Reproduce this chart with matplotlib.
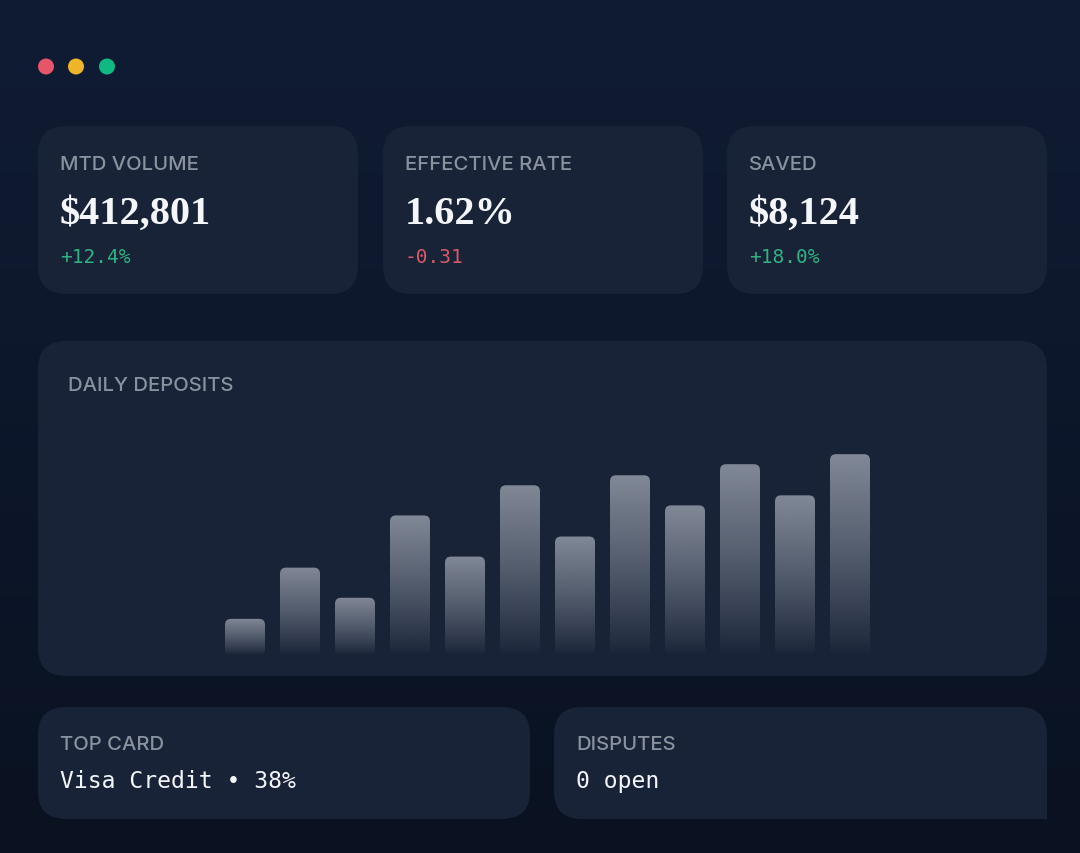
import numpy as np
import matplotlib.pyplot as plt
from matplotlib.patches import FancyBboxPatch, Rectangle, Circle
from matplotlib.colors import to_rgb

# ---- data ----
kpi_labels = ['MTD VOLUME', 'EFFECTIVE RATE', 'SAVED']
kpi_values = ['$412,801', '1.62%', '$8,124']
kpi_deltas = ['+12.4%', '-0.31', '+18.0%']
kpi_up = [True, False, True]

chart_title = 'DAILY DEPOSITS'
days = np.arange(1, 13)
deposits = [18, 43.5, 28.5, 69.5, 49, 84.5, 59, 89.5, 74.5, 95, 79.5, 100]  # $k

bottom_labels = ['TOP CARD', 'DISPUTES']
bottom_values = ['Visa Credit \u2022 38%', '0 open']

# ---- style ----
W, H = 1080, 854
BG_TOP = '#101c34'
BG_BOT = '#0a1221'
CARD = '#192337'
LABEL = '#8a92a0'
WHITE = '#f4f6f9'
GREEN = '#2fb282'
RED = '#d9596a'
SANS = ['Inter', 'DejaVu Sans']
SERIF = ['Liberation Serif', 'DejaVu Serif']
MONO = ['DejaVu Sans Mono']

fig = plt.figure(figsize=(W / 100, H / 100), dpi=100)
ax = fig.add_axes([0, 0, 1, 1])
ax.set_xlim(0, W)
ax.set_ylim(H, 0)
ax.axis('off')

# background gradient
grad = np.linspace(0, 1, 256)[:, None, None]
c0, c1 = np.array(to_rgb(BG_TOP)), np.array(to_rgb(BG_BOT))
bg = c0 * (1 - grad) + c1 * grad
ax.imshow(bg, extent=[0, W, H, 0], aspect='auto', zorder=0)


def card(x0, y0, x1, y1, r=28):
    p = FancyBboxPatch((x0 + r, y0 + r), x1 - x0 - 2 * r, y1 - y0 - 2 * r,
                       boxstyle=f'round,pad={r}', fc=CARD, ec='none', zorder=1)
    ax.add_patch(p)


# window dots
for cx, col in zip([46, 76, 107], ['#e5566b', '#f0b429', '#10b981']):
    ax.add_patch(Circle((cx, 67.5), 8, fc=col, ec='none', zorder=2))

# KPI cards
kpi_x = [38, 383, 727]
for i, x0 in enumerate(kpi_x):
    card(x0, 127, x0 + 320, 295)
    ax.text(x0 + 22, 165, kpi_labels[i], color=LABEL, fontsize=14.6,
            family=SANS, fontweight='medium', va='center', ha='left', zorder=3)
    ax.text(x0 + 22, 214, kpi_values[i], color=WHITE, fontsize=29,
            family=SERIF, fontweight='bold', va='center', ha='left', zorder=3)
    ax.text(x0 + 22, 258, kpi_deltas[i], color=GREEN if kpi_up[i] else RED,
            fontsize=14, family=MONO, va='center', ha='left', zorder=3)

# chart card
card(38, 342, 1047, 677)
ax.text(68, 386, chart_title, color=LABEL, fontsize=14.6, family=SANS,
        fontweight='medium', va='center', ha='left', zorder=3)

# bar chart in its own axes
left_px, right_px, top_px, bot_px = 217.5, 877.5, 415, 656
bax = fig.add_axes([left_px / W, 1 - bot_px / H, (right_px - left_px) / W,
                    (bot_px - top_px) / H])
bax.set_xlim(0.5, 12.5)
bax.set_ylim(0, 120)
bax.axis('off')
bars = bax.bar(days, deposits, width=0.727, color='none', edgecolor='none')

# fading fill for each bar, clipped to a rounded box
xpp = 12 / (right_px - left_px)
ypp = 120 / (bot_px - top_px)
bar_rgb = np.array(to_rgb('#9ba2af'))
for rect in bars:
    bx, by = rect.get_x(), rect.get_y()
    bw, bh = rect.get_width(), rect.get_height()
    t = np.linspace(0, 1, 200)[:, None]
    img = np.zeros((200, 1, 4))
    img[..., :3] = bar_rgb
    img[..., 3] = 0.8 * (1 - t) ** 0.85
    im = bax.imshow(img, extent=[bx, bx + bw, by, by + bh], aspect='auto',
                    origin='upper', zorder=2)
    clip = FancyBboxPatch((bx, by), bw, bh,
                          boxstyle=f'round,pad=0,rounding_size={6 * xpp}',
                          mutation_aspect=ypp / xpp, fc='none', ec='none',
                          transform=bax.transData)
    bax.add_patch(clip)
    im.set_clip_path(clip)

# bottom cards
card(38, 708, 530, 820)
card(554, 708, 1047, 820)
ax.add_patch(Rectangle((1000, 790), 47, 30, fc=CARD, ec='none', zorder=1))
for x0, lab, val in zip([38, 554], bottom_labels, bottom_values):
    ax.text(x0 + 22, 745, lab, color=LABEL, fontsize=14.6, family=SANS,
            fontweight='medium', va='center', ha='left', zorder=3)
    ax.text(x0 + 22, 782, val, color=WHITE, fontsize=16.6, family=MONO,
            va='center', ha='left', zorder=3)

fig.savefig('out.png', dpi=100, facecolor=BG_BOT)
